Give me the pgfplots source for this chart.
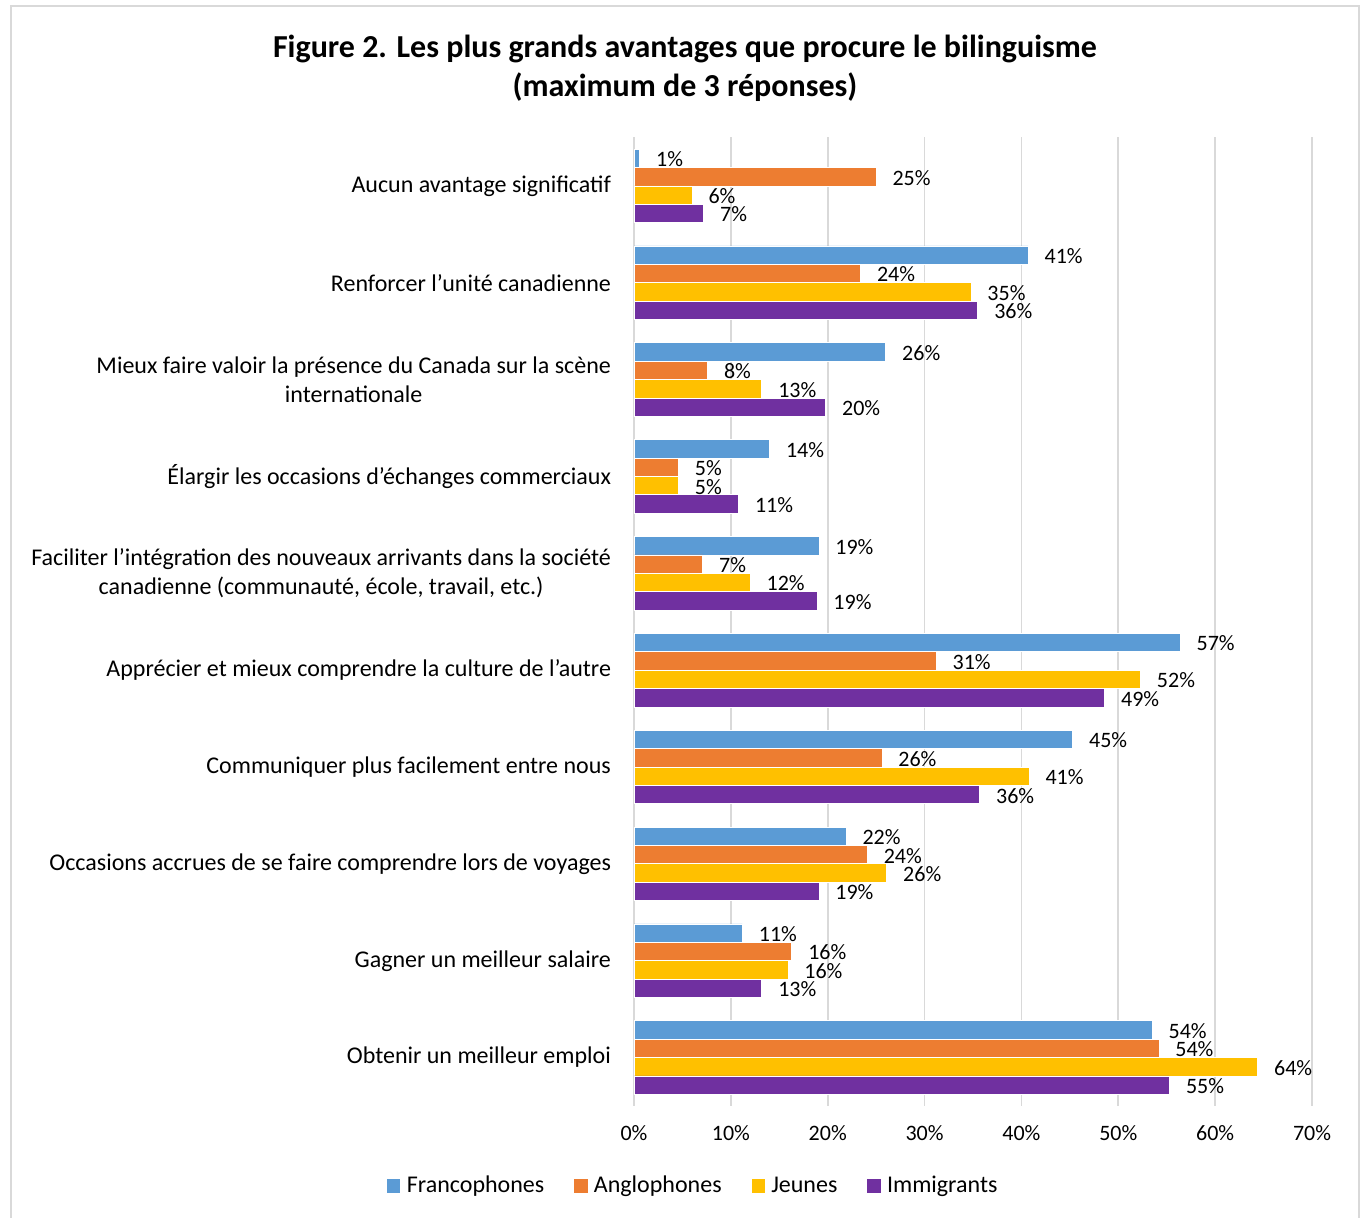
\documentclass[border=0pt]{standalone}
\usepackage{fontspec}
\setmainfont{Carlito}
\usepackage{pgfplots}
\pgfplotsset{compat=1.18}
\definecolor{cF}{HTML}{5B9BD5}
\definecolor{cA}{HTML}{ED7D31}
\definecolor{cJ}{HTML}{FFC000}
\definecolor{cI}{HTML}{7030A0}
\definecolor{gridc}{HTML}{D9D9D9}
\begin{document}
\begin{tikzpicture}
\path[use as bounding box] (0pt,0pt) rectangle (684pt,609pt);
\draw[gridc,line width=1pt] (5.5pt,-10pt) -- (5.5pt,606pt) -- (679.5pt,606pt) -- (679.5pt,-10pt);
\node[font=\fontsize{16}{19.5}\selectfont\bfseries,align=center] at (342.5pt,574.8pt)
  {Figure 2. Les plus grands avantages que procure le bilinguisme\\(maximum de 3 réponses)};
\begin{axis}[
  at={(317pt,56pt)}, anchor=south west, scale only axis,
  width=339pt, height=484.25pt,
  xmin=0, xmax=70, ymin=-0.5, ymax=9.5, y dir=reverse,
  xbar, bar width=0.19,
  axis line style={draw=none},
  xtick={0,10,...,70},
  xticklabels={0\%,10\%,20\%,30\%,40\%,50\%,60\%,70\%},
  xmajorgrids=true, ymajorgrids=false,
  grid style={gridc, line width=0.8pt},
  major tick length=0pt,
  xticklabel style={font=\fontsize{11}{12}\selectfont, yshift=-6pt},
  ytick={0,...,9},
  yticklabels={
    Aucun avantage significatif,
    Renforcer l’unité canadienne,
    {Mieux faire valoir la présence du Canada sur la scène\\internationale},
    Élargir les occasions d’échanges commerciaux,
    {Faciliter l’intégration des nouveaux arrivants dans la société\\canadienne (communauté, école, travail, etc.)},
    Apprécier et mieux comprendre la culture de l’autre,
    Communiquer plus facilement entre nous,
    Occasions accrues de se faire comprendre lors de voyages,
    Gagner un meilleur salaire,
    Obtenir un meilleur emploi},
  yticklabel style={font=\fontsize{12}{14.5}\selectfont, align=center, xshift=-8pt},
  point meta=explicit symbolic,
  nodes near coords,
  every node near coord/.append style={font=\fontsize{11}{12}\selectfont, anchor=west, xshift=7pt, yshift=-0.5pt, inner sep=1pt},
  every axis plot/.append style={draw=white, line width=0.4pt},
  legend style={at={(0.089,-0.0826)}, anchor=center, draw=none, legend columns=4,
    font=\fontsize{12}{14}\selectfont,
    /tikz/every even column/.append style={column sep=13pt}},
  legend image code/.code={\fill[#1,draw=none] (0pt,-3.3pt) rectangle (6.6pt,3.3pt);},
  legend cell align=left,
]
\addplot[fill=cF, bar shift=-0.285] table[x=v,y=c,meta=l] {
c v l
0 0.6 1\%
1 40.7 41\%
2 26.0 26\%
3 14.0 14\%
4 19.1 19\%
5 56.4 57\%
6 45.3 45\%
7 21.9 22\%
8 11.2 11\%
9 53.5 54\%
};
\addplot[fill=cA, bar shift=-0.095] table[x=v,y=c,meta=l] {
c v l
0 25.0 25\%
1 23.4 24\%
2 7.6 8\%
3 4.6 5\%
4 7.1 7\%
5 31.2 31\%
6 25.6 26\%
7 24.1 24\%
8 16.3 16\%
9 54.2 54\%
};
\addplot[fill=cJ, bar shift=0.095] table[x=v,y=c,meta=l] {
c v l
0 6.0 6\%
1 34.8 35\%
2 13.2 13\%
3 4.6 5\%
4 12.0 12\%
5 52.3 52\%
6 40.8 41\%
7 26.1 26\%
8 15.9 16\%
9 64.4 64\%
};
\addplot[fill=cI, bar shift=0.285] table[x=v,y=c,meta=l] {
c v l
0 7.2 7\%
1 35.5 36\%
2 19.8 20\%
3 10.8 11\%
4 18.9 19\%
5 48.6 49\%
6 35.7 36\%
7 19.1 19\%
8 13.2 13\%
9 55.3 55\%
};
\legend{\hspace{1.2pt}Francophones,\hspace{1.2pt}Anglophones,\hspace{1.2pt}Jeunes,\hspace{1.2pt}Immigrants}
\end{axis}
\end{tikzpicture}
\end{document}
